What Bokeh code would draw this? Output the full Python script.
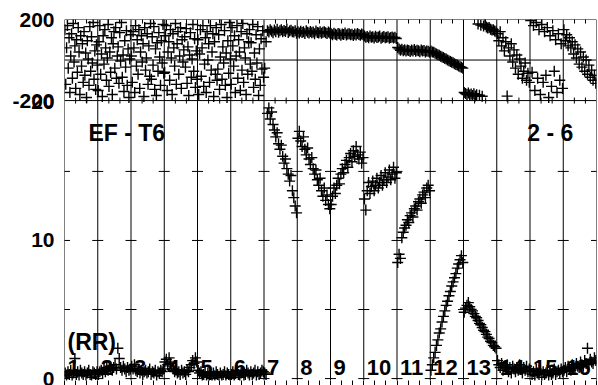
from bokeh.plotting import figure
from bokeh.models import Range1d, FixedTicker, Span, LinearAxis, Label
from bokeh.embed import file_html
from bokeh.resources import INLINE
from bokeh.core.properties import value

# ---------------- data ----------------
segments = [str(i) for i in range(1, 17)]

# lower panel (0..20 scale), one list per segment
rr_s1 = [0.4,0.2,0.5,0.3,0.6,0.1,0.4,1.45,0.3,0.5,0.2,0.6,0.4,0.3,0.5,0.2,0.4,0.6,0.3,0.1,0.5,0.4,0.3,0.5]
rr_s2 = [0.3,0.5,0.6,0.4,0.7,0.5,0.8,0.6,0.9,0.7,0.6,0.8,1.0,0.7,2.2,1.45,0.8,0.6,0.9,0.7,0.5,0.8,0.6,0.7]
rr_s3 = [0.9,0.7,1.0,0.6,0.5,0.7,0.4,0.6,0.3,0.5,0.6,0.4,0.5,0.7,0.3,0.5,0.4,0.6,0.2,0.5,0.4,0.6,0.5,0.7]
rr_s4 = [1.2,1.4,1.0,1.5,1.1,0.9,0.7,0.5,0.6,0.4,0.5,0.3,0.6,0.4,0.5,0.3,0.6,0.5,0.8,1.0,1.3,1.1,1.5,1.2]
rr_s5 = [0.6,0.4,0.5,0.2,0.3,0.5,0.1,0.4,0.2,0.3,0.0,0.4,0.2,0.5,0.3,0.1,0.4,0.2,0.3,0.5,0.2,0.4,0.3,0.1]
rr_s6 = [0.3,0.5,0.2,0.4,0.6,0.3,0.1,0.4,0.5,0.2,0.3,0.6,0.4,0.2,0.5,0.3,0.4,0.6,0.2,0.5,0.3,0.4,0.6,0.5]
rr_s7 = [0.4,0.3,19.2,19.6,18.8,19.3,18.4,18.0,17.5,17.8,17.0,16.6,16.9,16.1,15.6,15.9,15.2,14.8,14.3,14.7,13.6,13.1,12.5,12.0]
rr_s8 = [17.4,17.9,17.2,16.8,17.5,16.6,16.2,16.7,15.9,15.5,16.0,15.2,14.8,15.1,14.4,14.0,14.5,13.6,13.2,13.8,12.9,13.3,12.6,12.3]
rr_s9 = [12.6,13.2,13.8,13.4,14.0,14.5,14.1,14.8,15.2,14.9,15.5,15.8,15.3,16.0,16.3,15.7,16.5,16.1,16.8,16.2,15.9,16.4,15.6,16.0]
rr_s10 = [13.0,12.2,13.6,14.2,13.4,13.9,14.3,13.6,14.0,14.5,13.8,14.2,14.7,14.0,14.4,14.9,14.2,14.6,15.1,14.4,14.8,15.3,14.5,14.9]
rr_s11 = [8.4,9.0,8.7,10.2,10.6,10.9,11.1,11.5,11.3,11.8,12.0,11.7,12.3,12.5,12.2,12.8,13.0,12.7,13.3,13.5,13.1,13.8,14.0,13.6]
rr_s12 = [0.6,1.0,1.5,1.9,2.4,2.8,3.3,3.6,4.1,4.5,4.9,5.3,5.6,6.0,6.3,6.7,7.0,7.3,7.6,8.0,8.3,8.6,8.9,8.4]
rr_s13 = [4.8,5.1,5.3,5.5,5.2,5.0,4.9,4.7,4.5,4.4,4.2,4.0,3.9,3.7,3.5,3.4,3.2,3.0,2.9,2.7,2.6,2.4,2.3,2.2]
rr_s14 = [1.3,1.0,0.8,1.1,0.6,0.9,0.7,1.0,0.5,0.8,0.4,0.9,0.7,0.5,0.8,0.6,1.0,0.7,0.4,0.8,0.6,0.9,0.5,0.7]
rr_s15 = [0.6,0.3,0.5,0.2,0.7,0.4,0.3,0.6,0.1,0.5,0.3,0.4,0.6,0.2,0.5,0.3,0.4,0.7,0.3,0.5,0.6,0.4,0.7,0.5]
rr_s16 = [0.6,0.8,0.5,0.9,0.7,0.6,1.0,0.8,0.7,1.1,0.9,0.8,1.2,1.0,0.9,1.3,1.1,2.2,1.0,1.4,1.2,1.1,1.5,1.3]

# upper panel (-200..200 scale), one list per segment
ang_s1 = [150,-120,60,170,-40,110,-160,20,130,-90,180,-10,70,-140,100,-60,160,40,-170,120,-30,80,-110,140,
          -75,35,-185,95,5,-125,165,-55,115,-15,185,-95,45,-145,75,-25]
ang_s2 = [-150,90,170,-70,30,-180,120,-20,150,60,-100,10,175,-130,40,-60,110,-170,80,140,-40,160,-90,20,
          65,-115,135,-5,185,-85,25,-155,95,-35,145,-125,55,-185,5,125]
ang_s3 = [20,-110,140,60,-160,170,-30,100,-70,150,-140,40,120,-10,80,-180,160,-50,10,130,-120,70,-80,180,
          -95,115,-25,165,-145,55,-175,85,-55,135,15,-125,95,-15,175,-65]
ang_s4 = [-60,120,170,-150,40,90,-100,150,10,-170,130,60,-30,180,-120,80,140,-70,20,160,-140,100,-10,50,
          115,-35,155,-115,65,-175,25,135,-85,5,175,-55,105,-135,45,-95]
ang_s5 = [100,-170,30,150,-80,60,170,-130,-20,110,-160,140,0,80,-110,170,-50,40,130,-180,90,-70,160,-100,
          -45,125,-145,15,175,-95,65,-15,145,-125,35,-185,95,-65,185,5]
ang_s6 = [-120,160,70,-30,120,-160,20,170,-90,100,40,-150,140,-50,180,-110,60,10,-170,130,-70,90,150,-20,
          85,-55,175,-135,35,-95,125,-15,165,-175,55,-125,105,-45,145,-85]
ang_s7 = [-40,90,145,138,150,142,135,148,140,152,137,144,149,139,146,141,153,136,143,147,140,138,145,132]
ang_s8 = [140,134,142,136,139,131,144,137,133,141,135,138,130,143,136,134,140,132,137,139,135,131,138,134]
ang_s9 = [130,125,132,127,124,131,128,122,129,126,133,123,128,130,125,127,121,129,124,131,126,122,128,125]
ang_s10 = [118,112,116,110,119,113,115,109,117,111,114,118,108,113,116,110,112,115,107,111,114,109,112,106]
ang_s11 = [62,55,48,53,46,51,44,50,47,42,49,45,52,43,48,46,41,50,44,47,40,45,43,38]
ang_s12 = [44,40,38,33,30,26,24,19,15,12,8,5,0,-3,-7,-11,-14,-18,-22,-25,-29,-33,-36,-40]
ang_s13 = [-160,-165,-170,-163,-172,-168,-175,-166,-178,-171,178,-174,172,-179,168,175,163,158,160,152,148,150,143,140]
ang_s14 = [130,95,140,70,110,45,90,-178,60,20,80,-10,50,-40,25,-70,5,-30,-90,-55,-15,-100,-65,-110]
ang_s15 = [195,-60,170,-150,185,-90,150,-170,175,-110,140,-75,160,-185,120,-130,145,-55,100,-160,130,-100,80,-140]
ang_s16 = [150,95,125,70,110,60,90,30,75,10,55,-20,40,-35,15,-55,0,-70,-25,-85,-50,-100,-75,-115]

rr_segs = [rr_s1, rr_s2, rr_s3, rr_s4, rr_s5, rr_s6, rr_s7, rr_s8,
           rr_s9, rr_s10, rr_s11, rr_s12, rr_s13, rr_s14, rr_s15, rr_s16]
ang_segs = [ang_s1, ang_s2, ang_s3, ang_s4, ang_s5, ang_s6, ang_s7, ang_s8,
            ang_s9, ang_s10, ang_s11, ang_s12, ang_s13, ang_s14, ang_s15, ang_s16]

low_ticks = [0, 5, 10, 15]
low_labels = [0, 10, 20]
up_ticks = [-200, 200]
up_lines = [-200, 0, 200]

# ---------------- layout of the two stacked scales ----------------
MAIN_START, MAIN_END = -0.14, 26.0      # lower-panel units over whole frame
UP_BASE = 20.13                         # lower-panel value where the upper panel's -200 sits
UP_MIN, UP_MAX = -200.0, 200.0
k = (MAIN_END - UP_BASE) / (UP_MAX - UP_MIN)   # main units per upper unit


def up_to_main(v):
    return UP_BASE + (v - UP_MIN) * k


up_range_start = UP_MIN + (MAIN_START - UP_BASE) / k

nseg = len(segments)
bounds = list(range(nseg + 1))
thirds = [i + j / 3 for i in range(nseg) for j in (1, 2)]

rr_x, rr_y, ang_x, ang_y = [], [], [], []
for i, (a, b) in enumerate(zip(rr_segs, ang_segs)):
    rr_x += [i + (j + 0.5) / len(a) for j in range(len(a))]
    rr_y += a
    ang_x += [i + (j + 0.5) / len(b) for j in range(len(b))]
    ang_y += b

FONT = "Liberation Sans"

p = figure(width=598, height=385, output_backend="svg", toolbar_location=None,
           x_range=Range1d(0, nseg), y_range=Range1d(MAIN_START, MAIN_END),
           min_border_left=64, min_border_right=2, min_border_top=19, min_border_bottom=5)
p.extra_y_ranges = {"up": Range1d(up_range_start, UP_MAX)}
p.outline_line_color = None
p.grid.visible = False
p.background_fill_color = "white"
p.border_fill_color = "white"

# vertical segment lines
for b in bounds:
    p.add_layout(Span(location=b, dimension="height", line_color="black", line_width=1))

# horizontal lines of the upper panel
p.segment(x0=[0] * len(up_lines), x1=[nseg] * len(up_lines), y0=up_lines, y1=up_lines,
          y_range_name="up", line_color="black", line_width=1)

# cross dashes at segment lines for the lower panel
p.scatter(x=[b for b in bounds for t in low_ticks], y=[t for b in bounds for t in low_ticks],
          marker="dash", size=11, line_color="black", line_width=1)

# minor ticks on the line between the panels
p.scatter(x=thirds, y=[UP_MIN] * len(thirds), y_range_name="up", marker="dash",
          angle=1.5708, size=6, line_color="black", line_width=1)

# data
p.scatter(x=ang_x, y=ang_y, y_range_name="up", marker="cross", size=11,
          line_color="black", line_width=1.4)
p.scatter(x=rr_x, y=rr_y, marker="cross", size=11, line_color="black", line_width=1.4)

# axes (tick marks only, no labels on x)
xa = p.xaxis[0]
xa.ticker = FixedTicker(ticks=[], minor_ticks=thirds + bounds)
xa.axis_line_color = None
xa.major_tick_in = 0
xa.major_tick_out = 0
xa.minor_tick_in = 0
xa.minor_tick_out = 5
xa.major_label_standoff = 0

top_ax = LinearAxis(ticker=FixedTicker(ticks=[], minor_ticks=thirds))
top_ax.axis_line_color = None
top_ax.major_tick_in = 0
top_ax.major_tick_out = 0
top_ax.minor_tick_in = 4
top_ax.minor_tick_out = 0
top_ax.major_label_standoff = 0
p.add_layout(top_ax, "above")

ytick_pos = low_labels + [up_to_main(v) for v in up_ticks]
overrides = {up_to_main(v): str(v) for v in up_ticks}
ya = p.yaxis[0]
ya.ticker = FixedTicker(ticks=ytick_pos)
ya.major_label_overrides = overrides
ya.axis_line_color = None
ya.major_tick_in = 0
ya.major_tick_out = 0
ya.minor_tick_in = 0
ya.minor_tick_out = 0
ya.major_label_standoff = 10
ya.major_label_text_font = FONT
ya.major_label_text_font_style = "bold"
ya.major_label_text_font_size = "21px"
ya.major_label_text_color = "black"

# segment numbers
p.text(x=bounds[:-1], y=[0.8] * nseg, text=segments, x_offset=3,
       text_font=value(FONT), text_font_style="bold", text_font_size="22px",
       text_baseline="alphabetic", text_align="left", text_color="black")

for txt, x, y in [("EF - T6", 0.72, 17.75), ("2 - 6", 13.92, 17.75), ("(RR)", 0.09, 2.68)]:
    p.add_layout(Label(x=x, y=y, text=txt, text_font=FONT, text_font_style="bold",
                       text_font_size="23px", text_baseline="alphabetic", text_color="black"))

open("out.html", "w").write(file_html(p, INLINE))
